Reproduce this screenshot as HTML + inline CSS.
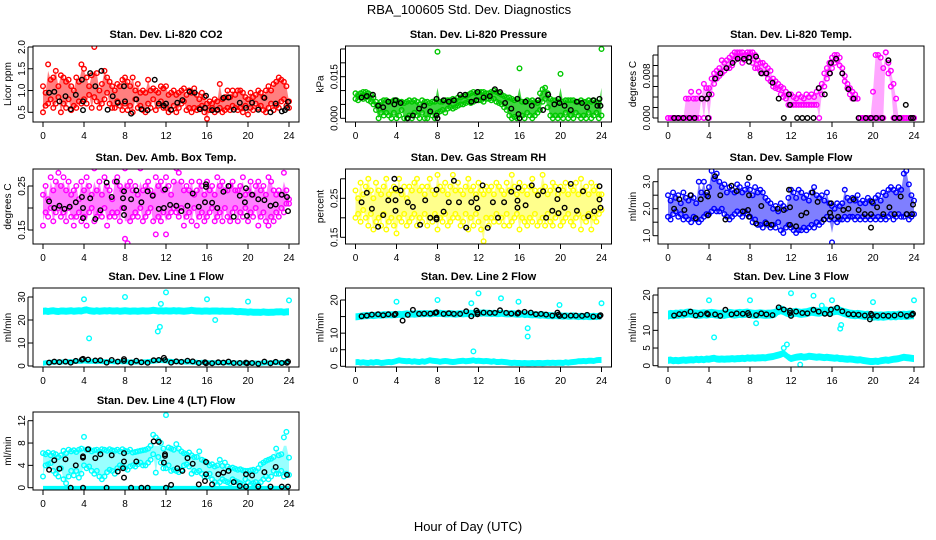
<!DOCTYPE html>
<html><head><meta charset="utf-8"><style>
html,body{margin:0;padding:0;background:#fff}
svg{display:block;font-family:"Liberation Sans",sans-serif}
</style></head><body>
<svg id="chart" width="936" height="540" viewBox="0 0 936 540" xmlns="http://www.w3.org/2000/svg">
<rect x="0" y="0" width="936" height="540" fill="#fff"/>
<text x="469" y="14" font-size="13" text-anchor="middle">RBA_100605  Std. Dev. Diagnostics</text>
<text x="468" y="531" font-size="13" text-anchor="middle">Hour of Day (UTC)</text>
</svg>
<script>
const HOURS=[0,0.25,0.5,0.75,1,1.25,1.5,1.75,2,2.25,2.5,2.75,3,3.25,3.5,3.75,4,4.25,4.5,4.75,5,5.25,5.5,5.75,6,6.25,6.5,6.75,7,7.25,7.5,7.75,8,8.25,8.5,8.75,9,9.25,9.5,9.75,10,10.25,10.5,10.75,11,11.25,11.5,11.75,12,12.25,12.5,12.75,13,13.25,13.5,13.75,14,14.25,14.5,14.75,15,15.25,15.5,15.75,16,16.25,16.5,16.75,17,17.25,17.5,17.75,18,18.25,18.5,18.75,19,19.25,19.5,19.75,20,20.25,20.5,20.75,21,21.25,21.5,21.75,22,22.25,22.5,22.75,23,23.25,23.5,23.75,24];
const X_TICKS=[0,4,8,12,16,20,24];

// CO2
const co2Upper=[1.1,0.95,1.6,1.25,1.3,1.45,1.1,1.35,1.3,1.2,1.25,1.1,1.0,1.3,1.2,1.6,1.5,1.3,1.1,1.35,2.0,1.4,1.0,1.15,1.45,1.3,1.2,1.1,1.0,1.15,1.1,1.25,1.3,1.2,1.1,1.3,1.0,1.15,0.95,1.0,0.95,1.25,1.0,1.05,1.0,0.95,1.1,1.05,1.1,0.9,0.95,1.0,0.9,0.95,1.0,1.05,0.9,1.0,0.95,1.05,0.9,0.8,0.95,0.85,0.7,0.75,0.7,0.8,0.75,1.15,0.8,0.85,1.0,0.85,1.0,0.9,1.0,1.0,0.95,0.85,0.8,0.95,0.85,0.9,1.0,0.95,0.85,1.0,1.1,1.0,1.15,1.2,1.3,1.25,1.2,1.1,0.75];
const co2Lower=[0.5,0.65,0.7,0.8,0.6,0.7,0.85,0.5,0.7,0.6,0.8,0.55,0.65,0.6,0.75,0.7,0.8,0.7,0.9,0.6,0.85,0.75,0.6,0.7,0.8,0.95,0.7,0.6,0.6,0.75,0.65,0.55,0.7,0.55,0.65,0.5,0.8,0.6,0.65,0.55,0.5,0.7,0.6,0.8,0.55,0.65,0.75,0.6,0.6,0.5,0.55,0.65,0.5,0.6,0.7,0.75,0.55,0.6,0.5,0.6,0.55,0.6,0.65,0.5,0.35,0.55,0.6,0.5,0.55,0.6,0.5,0.55,0.6,0.55,0.65,0.6,0.55,0.6,0.5,0.65,0.45,0.6,0.55,0.7,0.6,0.65,0.55,0.5,0.6,0.7,0.55,0.65,0.6,0.75,0.8,0.65,0.6];
const co2Black=[[0.6,0.95],[1.1,0.97],[1.6,0.75],[2.2,0.87],[2.7,0.57],[3.2,0.9],[3.8,1.25],[3.9,0.55],[3.9,0.75],[4.6,1.4],[5.1,1.1],[5.7,1.45],[6.3,0.56],[6.8,0.87],[7.3,0.72],[7.9,1.1],[8.0,0.75],[8.6,0.47],[9.1,0.8],[9.6,0.57],[10.2,0.55],[10.9,1.25],[11.3,0.7],[11.8,0.65],[12.0,0.7],[12.5,0.56],[13.1,0.72],[13.6,0.78],[14.3,0.97],[14.8,0.95],[15.3,0.57],[15.8,0.6],[15.9,0.88],[16.5,0.55],[17.0,0.56],[17.6,0.83],[18.1,0.84],[18.6,0.56],[19.2,0.72],[19.8,0.6],[20.4,0.72],[21.0,0.56],[21.6,0.83],[22.2,0.5],[22.7,0.7],[23.3,0.52],[23.6,0.55],[23.8,0.6],[23.9,0.74]];

// Pressure
const presUpper=[0.009,0.0085,0.009,0.0095,0.0095,0.009,0.0085,0.0075,0.006,0.005,0.006,0.0065,0.0065,0.006,0.006,0.0065,0.0065,0.006,0.006,0.0055,0.006,0.0065,0.006,0.0065,0.006,0.005,0.0065,0.006,0.006,0.0055,0.006,0.006,0.024,0.006,0.006,0.0065,0.0065,0.0065,0.007,0.0065,0.0075,0.0075,0.008,0.008,0.0085,0.009,0.0095,0.009,0.0095,0.0095,0.0095,0.009,0.009,0.0095,0.01,0.0095,0.009,0.0085,0.008,0.0075,0.0075,0.007,0.0065,0.007,0.018,0.006,0.006,0.0065,0.006,0.0065,0.006,0.0055,0.009,0.0105,0.011,0.009,0.007,0.0065,0.0065,0.006,0.016,0.006,0.0065,0.0065,0.0065,0.0065,0.006,0.006,0.0065,0.006,0.006,0.0065,0.006,0.0065,0.006,0.0055,0.025];
const presLower=[0.007,0.0065,0.0075,0.007,0.0075,0.0065,0.006,0.005,0.003,0.0,0.002,0.001,0.002,0.001,0.0,0.002,0.0,0.001,0.003,0.0,0.0,0.001,0.0,0.002,0.001,0.0,0.002,0.0,0.0,0.002,0.001,0.0,0.002,0.0025,0.003,0.002,0.0035,0.004,0.0035,0.004,0.0045,0.005,0.005,0.0055,0.006,0.0055,0.006,0.0065,0.0065,0.0065,0.006,0.007,0.007,0.0065,0.007,0.006,0.0055,0.005,0.004,0.003,0.001,0.0,0.0005,0.0,0.0,0.001,0.0,0.002,0.001,0.0,0.001,0.002,0.003,0.006,0.007,0.004,0.001,0.0,0.001,0.0,0.001,0.0,0.002,0.0,0.001,0.0,0.002,0.001,0.0,0.001,0.0,0.002,0.0,0.001,0.002,0.0,0.001];
const presBlack=[[0.6,0.0075],[1.1,0.008],[1.7,0.0085],[2.2,0.0045],[2.7,0.004],[3.2,0.006],[3.8,0.005],[3.9,0.0065],[4.4,0.0055],[5.1,0.0],[5.6,0.001],[6.2,0.0035],[6.7,0.0045],[7.3,0.0025],[7.9,0.007],[7.9,0.001],[8.0,0.0],[8.6,0.0065],[9.1,0.006],[9.6,0.0065],[10.2,0.0085],[10.7,0.0085],[11.3,0.006],[11.8,0.0065],[11.9,0.0095],[12.5,0.0075],[13.1,0.008],[13.6,0.0105],[14.1,0.0095],[14.6,0.0055],[15.2,0.0035],[15.8,0.007],[15.9,0.0015],[16.0,0.0],[16.6,0.006],[17.2,0.0045],[17.8,0.0065],[18.3,0.003],[18.8,0.0085],[19.4,0.005],[19.8,0.007],[19.9,0.0055],[20.4,0.0045],[21.0,0.003],[21.6,0.006],[22.1,0.0055],[22.6,0.004],[23.2,0.0065],[23.6,0.0045],[23.8,0.007],[23.9,0.0045]];

// Li-820 Temp
const tempUpper=[0,0,0,0,0,0,0,0.0037,0.0037,0.005,0.0037,0.0037,0.005,0.0037,0.0065,0.0057,0.0057,0.0075,0.0085,0.009,0.0095,0.011,0.0105,0.011,0.0115,0.012,0.0125,0.0125,0.0125,0.0125,0.012,0.0125,0.0125,0.0125,0.012,0.011,0.0105,0.0105,0.01,0.0095,0.009,0.0075,0.007,0.0065,0.006,0.0057,0.005,0.0045,0.0045,0.004,0.0037,0.0045,0.004,0.0037,0.0045,0.004,0.0045,0.004,0.005,0.0057,0.0065,0.0085,0.0095,0.0105,0.0115,0.012,0.012,0.0115,0.0095,0.008,0.0065,0.0057,0.005,0.0045,0.0037,0,0,0,0,0,0.005,0.012,0.012,0.0115,0.0095,0.0125,0.0105,0.009,0.0065,0.0037,0,0,0,0,0,0,0];
const tempLower=[0,0,0,0,0,0,0,0,0,0,0,0,0,0.0037,0,0.0037,0,0.0045,0.0065,0.0075,0.008,0.0085,0.009,0.0095,0.0095,0.01,0.011,0.0115,0.0115,0.0105,0.011,0.012,0.0115,0.0105,0.0095,0.0095,0.009,0.0085,0.0085,0.0075,0.007,0.006,0.0057,0.0055,0.0045,0.004,0.0037,0.0025,0.0025,0.0025,0.0025,0.0025,0.0025,0.0025,0.0025,0.0025,0.0025,0.0025,0.0025,0,0.0045,0.006,0.0075,0.0085,0.0095,0.0105,0.011,0.01,0.0085,0.007,0.0057,0.0045,0.0037,0.0037,0.0037,0,0,0,0,0,0,0,0,0,0,0.0125,0.0085,0.006,0,0,0,0,0,0,0,0,0];
const tempBlack=[[0.6,0],[1.0,0],[1.5,0],[2.1,0],[2.6,0],[3.3,0.0037],[3.8,0.0037],[3.9,0],[4.0,0.0045],[4.6,0.0075],[5.1,0.0085],[5.7,0.0095],[6.3,0.0105],[6.8,0.0113],[7.4,0.0113],[7.9,0.0115],[7.9,0.0107],[8.6,0.0117],[9.1,0.0085],[9.6,0.0085],[10.2,0.0067],[10.8,0.0037],[11.3,0],[11.8,0.0045],[11.9,0.0025],[12.6,0],[13.1,0],[13.6,0],[14.2,0],[14.7,0.0057],[15.3,0.0045],[15.8,0.0085],[15.9,0.0105],[16.4,0.0113],[17.0,0.0085],[17.6,0.0055],[18.1,0.0037],[18.6,0],[19.3,0],[19.8,0],[20.3,0],[20.9,0],[21.5,0.011],[22.1,0],[22.6,0],[23.2,0.0025],[23.7,0],[23.9,0]];

// Amb box temp
const ambUpper=[0.23,0.25,0.22,0.27,0.24,0.26,0.28,0.25,0.27,0.24,0.26,0.23,0.24,0.25,0.22,0.26,0.24,0.27,0.25,0.23,0.29,0.24,0.26,0.23,0.27,0.25,0.24,0.22,0.26,0.27,0.25,0.24,0.29,0.25,0.26,0.24,0.25,0.23,0.29,0.24,0.25,0.26,0.24,0.23,0.27,0.25,0.26,0.24,0.27,0.25,0.23,0.26,0.29,0.28,0.26,0.24,0.25,0.24,0.26,0.23,0.24,0.26,0.25,0.23,0.26,0.24,0.25,0.23,0.27,0.25,0.26,0.24,0.24,0.25,0.26,0.24,0.24,0.25,0.27,0.23,0.24,0.26,0.23,0.25,0.26,0.24,0.25,0.23,0.27,0.26,0.24,0.23,0.24,0.23,0.28,0.24,0.22];
const ambLower=[0.16,0.19,0.18,0.20,0.17,0.19,0.2,0.18,0.19,0.17,0.2,0.18,0.16,0.18,0.19,0.17,0.18,0.16,0.19,0.2,0.17,0.18,0.19,0.18,0.2,0.16,0.18,0.19,0.18,0.19,0.17,0.2,0.13,0.12,0.17,0.18,0.19,0.18,0.2,0.17,0.18,0.19,0.2,0.17,0.14,0.18,0.17,0.19,0.14,0.18,0.19,0.2,0.19,0.18,0.2,0.16,0.18,0.19,0.17,0.2,0.16,0.18,0.19,0.17,0.18,0.19,0.2,0.17,0.18,0.19,0.17,0.2,0.18,0.17,0.19,0.2,0.17,0.19,0.18,0.2,0.17,0.19,0.18,0.2,0.16,0.18,0.19,0.17,0.16,0.18,0.17,0.19,0.18,0.2,0.19,0.21,0.21];
const ambBlack=[[0.6,0.215],[1.1,0.2],[1.6,0.205],[2.1,0.198],[2.6,0.203],[3.2,0.213],[3.8,0.225],[3.9,0.2],[3.9,0.177],[4.6,0.222],[5.1,0.175],[5.6,0.195],[6.2,0.258],[6.7,0.225],[7.2,0.26],[7.8,0.222],[7.9,0.238],[7.9,0.2],[7.9,0.184],[8.6,0.22],[9.1,0.24],[9.6,0.213],[10.2,0.238],[10.7,0.228],[11.3,0.198],[11.8,0.2],[11.9,0.242],[12.4,0.207],[13.0,0.205],[13.5,0.193],[14.1,0.205],[14.6,0.233],[15.2,0.203],[15.8,0.213],[15.9,0.248],[15.9,0.254],[16.5,0.212],[17.0,0.2],[17.6,0.237],[18.1,0.25],[18.6,0.18],[19.2,0.228],[19.7,0.213],[19.8,0.245],[19.9,0.182],[20.4,0.23],[21.0,0.22],[21.6,0.218],[22.2,0.205],[22.7,0.208],[23.3,0.23],[23.8,0.225],[23.9,0.193]];

// Gas stream RH
const rhUpper=[0.27,0.25,0.29,0.26,0.28,0.3,0.27,0.25,0.29,0.27,0.26,0.28,0.3,0.26,0.27,0.28,0.27,0.3,0.26,0.28,0.25,0.28,0.27,0.29,0.3,0.27,0.28,0.26,0.28,0.3,0.27,0.26,0.31,0.28,0.27,0.29,0.26,0.28,0.31,0.27,0.29,0.27,0.26,0.28,0.3,0.27,0.28,0.26,0.29,0.27,0.26,0.28,0.27,0.28,0.26,0.29,0.28,0.27,0.26,0.29,0.27,0.31,0.28,0.26,0.29,0.27,0.28,0.26,0.28,0.3,0.27,0.26,0.27,0.31,0.28,0.26,0.27,0.29,0.28,0.26,0.28,0.27,0.29,0.26,0.28,0.27,0.29,0.26,0.3,0.27,0.28,0.26,0.29,0.27,0.28,0.26,0.26];
const rhLower=[0.2,0.21,0.19,0.22,0.2,0.18,0.21,0.17,0.19,0.2,0.18,0.21,0.17,0.19,0.2,0.18,0.16,0.2,0.19,0.21,0.18,0.19,0.2,0.21,0.18,0.2,0.19,0.21,0.18,0.2,0.19,0.21,0.17,0.2,0.19,0.21,0.18,0.19,0.2,0.21,0.2,0.18,0.19,0.21,0.17,0.2,0.18,0.21,0.19,0.17,0.14,0.2,0.18,0.2,0.19,0.21,0.19,0.2,0.18,0.21,0.18,0.19,0.2,0.21,0.17,0.2,0.19,0.18,0.2,0.19,0.21,0.18,0.19,0.2,0.18,0.21,0.19,0.18,0.2,0.21,0.18,0.19,0.2,0.21,0.19,0.18,0.2,0.21,0.17,0.2,0.19,0.21,0.17,0.2,0.19,0.21,0.22];
const rhBlack=[[0.6,0.24],[1.1,0.264],[1.6,0.223],[2.2,0.177],[2.7,0.207],[3.2,0.245],[3.8,0.3],[3.9,0.275],[3.9,0.245],[3.9,0.218],[4.4,0.27],[5.1,0.24],[5.6,0.228],[6.3,0.182],[6.8,0.245],[7.3,0.2],[7.9,0.272],[7.9,0.196],[7.9,0.2],[8.6,0.216],[9.1,0.24],[9.6,0.295],[10.1,0.24],[10.8,0.175],[11.3,0.24],[11.8,0.25],[11.9,0.225],[12.4,0.283],[12.9,0.174],[13.4,0.24],[13.9,0.2],[14.5,0.24],[15.2,0.267],[15.8,0.226],[15.8,0.244],[15.9,0.277],[16.6,0.232],[17.2,0.283],[17.8,0.258],[18.3,0.268],[18.6,0.2],[19.2,0.218],[19.7,0.248],[19.8,0.272],[19.8,0.212],[20.4,0.226],[21.0,0.287],[21.6,0.218],[22.2,0.268],[22.7,0.204],[23.3,0.217],[23.8,0.281],[23.8,0.247],[23.9,0.226]];

// Sample flow
const sfUpper=[2.5,2.3,2.6,2.4,2.5,2.2,2.6,2.4,2.3,2.5,2.4,2.2,3.0,2.6,3.0,2.5,2.8,3.4,3.1,3.3,3.0,2.8,2.9,2.6,2.8,2.7,2.6,2.9,2.8,2.6,2.7,2.9,2.7,2.5,2.8,2.6,2.7,2.6,2.4,2.3,2.2,2.0,2.1,1.9,2.2,2.1,2.0,2.4,2.7,2.6,2.4,2.7,2.6,2.4,2.5,2.3,2.6,2.8,2.5,2.4,2.5,2.3,2.6,2.2,2.1,2.0,2.2,2.1,2.2,2.7,2.4,2.3,2.4,2.3,2.5,2.2,2.3,2.2,2.4,2.3,2.2,2.4,2.5,2.3,2.6,2.5,2.7,2.8,2.7,2.6,2.8,2.7,3.3,3.4,2.9,2.5,2.3];
const sfLower=[1.7,1.6,1.8,1.9,1.7,1.8,1.6,1.7,1.6,1.5,1.7,1.6,1.5,1.6,1.7,1.8,1.8,1.9,2.0,1.9,1.9,2.0,1.8,1.7,1.6,1.7,1.8,1.9,1.8,1.7,1.9,1.8,1.7,1.5,1.6,1.4,1.4,1.3,1.5,1.4,1.3,1.4,1.3,1.5,1.2,1.1,1.3,1.4,1.3,1.2,1.1,1.2,1.2,1.3,1.2,1.3,1.4,1.3,1.5,1.4,1.5,1.6,1.7,1.6,0.75,1.6,1.5,1.6,1.6,1.7,1.6,1.7,1.7,1.6,1.7,1.6,1.7,1.6,1.7,1.6,1.7,1.6,1.7,1.6,1.7,1.6,1.7,1.8,1.6,1.7,1.8,1.7,1.7,1.8,1.6,1.7,1.8];
const sfBlack=[[0.6,2.0],[1.1,2.35],[1.6,1.95],[2.2,2.5],[2.7,1.65],[3.2,2.35],[3.8,2.6],[3.9,2.45],[3.9,1.75],[4.6,3.2],[5.1,2.5],[5.6,1.6],[6.2,2.85],[6.7,2.65],[7.3,1.9],[7.8,1.95],[7.9,3.15],[7.9,2.5],[7.9,1.7],[8.6,1.45],[9.1,2.1],[9.6,1.45],[10.1,1.4],[10.7,2.0],[11.3,1.95],[11.8,2.7],[11.9,2.05],[11.9,1.4],[12.5,1.35],[13.0,1.75],[13.5,1.85],[14.1,2.6],[14.6,2.25],[15.2,1.6],[15.8,1.85],[15.9,1.7],[15.9,2.2],[16.6,1.7],[17.1,1.95],[17.6,2.0],[18.1,2.35],[18.6,1.95],[19.2,1.8],[19.8,1.3],[19.8,1.8],[19.9,2.25],[20.4,2.05],[21.0,1.8],[21.6,2.05],[22.1,1.8],[22.7,2.45],[23.3,1.8],[23.8,1.8],[23.9,2.15]];

// Line 1 flow
const l1High=[23.8,23.9,23.7,23.9,24.0,23.8,23.7,23.9,23.9,23.8,23.9,24.0,23.8,23.9,24.0,23.9,24.2,24.4,24.1,23.9,23.8,24.0,23.8,23.9,24.0,23.9,24.1,23.9,23.9,24.0,23.8,23.9,24.0,23.9,23.8,23.9,23.9,23.8,23.9,24.0,23.9,23.9,24.0,24.2,24.1,23.9,24.0,23.9,24.0,23.9,23.9,24.1,23.9,24.0,23.9,23.8,23.9,24.0,24.2,24.0,23.9,23.9,23.8,23.9,23.9,23.8,23.9,23.9,23.9,23.8,23.9,23.8,23.8,23.8,23.9,23.7,23.6,23.7,23.6,23.5,23.4,23.5,23.4,23.4,23.4,23.3,23.5,23.4,23.3,23.4,23.4,23.5,23.5,23.6,23.4,23.5,23.6];
const l1Low=[1.2,1.4,1.5,1.6,1.6,1.7,1.8,1.7,1.8,1.7,1.9,1.8,1.9,2.0,2.1,2.0,2.2,2.1,2.0,2.1,2.0,1.9,2.0,1.9,1.9,1.8,2.0,1.9,1.8,1.9,2.0,1.8,1.9,1.8,1.7,1.8,1.7,1.8,1.7,1.8,1.8,1.9,2.0,2.1,2.2,2.3,2.4,2.3,2.2,2.1,2.0,1.9,1.9,1.8,1.9,1.8,1.7,1.8,1.7,1.6,1.6,1.5,1.6,1.5,1.5,1.4,1.5,1.4,1.4,1.5,1.4,1.5,1.4,1.3,1.4,1.3,1.3,1.4,1.3,1.2,1.2,1.3,1.2,1.3,1.3,1.2,1.3,1.4,1.3,1.4,1.5,1.4,1.5,1.4,1.5,1.6,1.5];
const l1Outliers=[[4.0,29],[4.5,12],[8.0,30],[11.2,15],[11.4,17],[11.5,27],[12.0,32],[16.0,29],[16.8,20],[20.0,28],[24.0,28.5]];
const l1Black=[[0.6,1.5],[1.1,1.9],[1.6,1.7],[2.2,1.9],[2.7,1.5],[3.2,2.2],[3.8,2.8],[3.9,3.1],[4.4,2.8],[5.1,2.4],[5.6,2.5],[6.2,1.5],[6.7,2.6],[7.3,1.9],[7.9,3.0],[7.9,2.2],[8.6,1.5],[9.1,2.3],[9.6,1.6],[10.2,1.4],[10.8,2.5],[11.3,2.6],[11.8,3.5],[11.9,2.6],[12.5,1.5],[13.0,2.0],[13.5,1.8],[14.1,2.3],[14.6,2.0],[15.2,1.3],[15.8,1.6],[15.9,1.2],[16.5,1.2],[17.1,1.6],[17.6,1.5],[18.1,1.9],[18.6,1.3],[19.2,1.3],[19.8,1.5],[19.9,1.2],[20.4,1.3],[21.0,1.0],[21.6,1.9],[22.2,1.2],[22.7,1.8],[23.3,1.3],[23.8,1.4],[23.9,1.9]];

// Line 2 flow
const l2High=[14.9,15.0,15.1,15.2,15.3,15.3,15.4,15.3,15.4,15.5,15.4,15.6,15.5,15.6,15.5,15.6,15.6,15.7,15.6,15.7,15.8,15.7,15.8,15.7,15.8,15.9,15.8,15.9,15.9,15.8,15.9,16.0,15.9,16.0,15.9,15.8,15.8,15.9,15.8,15.7,15.8,15.9,15.8,15.9,15.9,16.0,15.9,16.0,16.1,16.0,16.1,16.0,16.0,15.9,16.0,15.9,15.9,16.0,15.9,15.8,15.8,15.9,15.8,15.7,15.7,15.8,15.6,15.7,15.6,15.5,15.6,15.5,15.4,15.5,15.4,15.3,15.3,15.2,15.3,15.2,15.2,15.1,15.2,15.1,15.1,15.2,15.1,15.0,15.1,15.0,15.1,15.0,15.0,15.1,15.0,15.1,15.2];
const l2Low=[1.2,1.3,1.1,1.2,1.1,1.0,1.2,1.1,1.3,1.2,1.0,1.1,1.2,1.3,1.2,1.4,1.6,1.8,1.7,1.6,1.5,1.6,1.4,1.5,1.4,1.3,1.5,1.4,1.6,1.8,1.7,1.6,1.5,1.4,1.5,1.6,1.5,1.4,1.3,1.4,1.5,1.6,1.7,1.5,1.6,1.7,1.8,1.6,1.7,1.6,1.5,1.6,1.5,1.4,1.5,1.3,1.3,1.4,1.3,1.2,1.1,1.0,1.1,1.0,1.0,0.9,1.0,0.9,0.9,1.0,0.9,1.0,1.0,0.9,1.0,1.1,1.0,1.1,1.0,1.1,1.1,1.0,1.2,1.1,1.2,1.3,1.4,1.5,1.5,1.6,1.5,1.7,1.7,1.6,1.8,1.9,1.9];
const l2Outliers=[[4.0,19.5],[8.0,20],[11.3,19],[11.5,4.5],[12.0,22],[14.2,20.5],[15.9,19.5],[16.8,11.5],[16.8,9],[19.9,18.5],[24.0,19]];
const l2Black=[[0.6,15.1],[1.1,15.3],[1.6,15.6],[2.2,15.7],[2.7,15.4],[3.2,15.7],[3.8,15.5],[3.9,15.8],[4.6,13.8],[5.1,15.5],[5.6,17.0],[6.2,15.8],[6.7,15.9],[7.3,15.9],[7.8,16.1],[7.9,16.3],[8.6,15.8],[9.1,16.0],[9.6,15.8],[10.2,15.8],[10.8,16.6],[11.3,15.1],[11.8,16.8],[11.9,15.7],[11.9,16.2],[12.5,16.2],[13.1,16.1],[13.6,16.1],[14.1,16.9],[14.7,16.1],[15.2,15.9],[15.8,15.9],[15.9,16.2],[16.5,16.4],[17.1,16.2],[17.6,15.7],[18.1,15.8],[18.6,15.6],[19.2,15.3],[19.7,16.2],[19.8,15.6],[19.9,15.2],[20.4,15.2],[21.0,15.3],[21.5,15.3],[22.1,15.2],[22.6,15.5],[23.2,15.0],[23.8,15.1],[23.9,15.4]];

// Line 3 flow
const l3High=[14.3,14.5,14.4,14.6,14.5,14.7,14.6,14.8,14.9,14.8,14.7,14.6,14.5,14.6,14.7,14.6,14.7,14.8,14.7,14.6,14.5,14.6,14.5,14.7,14.8,14.7,14.6,14.7,14.8,14.7,14.8,14.9,14.7,14.6,14.5,14.6,14.7,14.6,14.5,14.6,14.6,14.7,14.9,15.6,15.8,15.6,15.2,15.0,14.9,15.0,15.1,14.9,14.8,14.9,15.0,15.2,15.4,15.3,15.2,15.1,15.3,15.5,15.4,15.2,15.4,15.6,15.7,15.5,15.2,15.0,14.8,14.6,14.5,14.4,14.5,14.4,14.3,14.2,14.3,14.1,14.0,14.1,14.0,14.1,14.0,14.1,14.2,14.1,14.2,14.1,14.3,14.2,14.3,14.2,14.3,14.4,14.4];
const l3Low=[1.5,1.6,1.4,1.5,1.4,1.5,1.6,1.5,1.6,1.7,1.6,1.8,1.7,1.8,1.7,1.9,1.8,2.0,2.1,1.9,1.8,1.9,1.8,1.9,1.9,2.0,1.9,2.0,2.0,2.1,2.0,2.2,2.1,2.2,2.1,2.2,2.2,2.3,2.2,2.4,2.5,2.6,2.8,3.0,3.2,3.5,3.0,2.4,2.0,2.2,2.4,2.5,2.6,2.4,2.5,2.7,2.6,2.5,2.4,2.5,2.4,2.3,2.4,2.3,2.2,2.1,2.2,2.0,2.0,1.9,1.8,1.9,1.8,1.7,1.6,1.7,1.5,1.4,1.3,1.2,1.2,1.3,1.2,1.4,1.5,1.6,1.5,1.7,1.8,1.9,2.0,2.2,2.4,2.3,2.2,2.1,2.0];
const l3Outliers=[[4.0,18.5],[4.5,8],[8.0,18.5],[8.6,12],[11.3,5],[11.6,6],[12.0,20.5],[14.2,19.8],[15.0,17],[16.0,18.5],[16.8,10.5],[16.9,11.5],[20.0,18],[24.0,18.5],[12.9,0.3]];
const l3Black=[[0.6,14.2],[1.1,14.6],[1.6,14.7],[2.2,15.3],[2.7,14.2],[3.2,14.5],[3.8,14.8],[3.9,14.5],[4.6,14.5],[5.1,14.1],[5.6,15.8],[6.2,14.5],[6.7,14.8],[7.3,14.7],[7.8,14.9],[7.9,14.3],[8.6,14.3],[9.1,14.8],[9.6,14.5],[10.2,14.3],[10.8,16.5],[11.3,15.9],[11.9,15.6],[11.9,14.9],[12.0,14.1],[12.5,15.3],[13.1,14.9],[13.6,14.8],[14.2,15.8],[14.7,15.3],[15.3,14.7],[15.8,14.6],[15.9,15.9],[16.5,16.4],[17.0,15.4],[17.6,14.6],[18.1,14.5],[18.6,14.4],[19.2,14.2],[19.7,13.1],[19.8,14.7],[19.9,14.3],[20.4,14.1],[21.0,14.2],[21.5,14.1],[22.1,14.2],[22.7,14.5],[23.3,14.1],[23.8,14.4],[23.9,14.7]];

// Line 4 (LT) flow
const l4Upper=[6.2,6.0,6.3,5.8,6.2,6.0,5.5,5.8,6.6,6.2,6.8,6.5,6.7,6.4,6.8,7.0,9.1,6.8,6.9,6.5,6.7,6.8,6.5,6.9,6.8,6.6,6.9,6.7,6.6,6.8,6.5,6.9,6.6,6.5,6.8,6.3,6.4,6.5,6.6,6.7,6.8,7.0,7.5,9.5,9.0,8.5,8.0,7.0,13.0,7.2,7.0,6.8,7.8,7.0,6.5,6.2,6.0,6.3,5.8,5.5,5.5,6.5,5.0,4.8,4.5,4.0,4.2,3.8,4.0,5.0,3.9,4.5,3.8,3.5,3.6,3.4,3.2,3.3,3.1,3.0,3.0,3.1,3.2,3.0,3.5,4.2,4.5,4.8,5.0,5.2,5.5,7.0,5.8,6.0,9.0,10.0,5.4];
const l4Lower=[2.0,4.0,4.2,4.4,3.0,2.5,2.0,3.5,1.5,0.8,2.0,3.0,2.2,3.0,1.8,2.5,4.0,3.5,3.8,3.0,2.5,3.0,2.0,1.5,2.0,2.8,3.2,3.0,2.5,3.5,4.0,3.8,3.5,3.2,3.8,4.0,3.8,4.2,4.5,4.0,4.0,4.5,5.0,6.0,2.7,5.5,4.5,3.5,3.5,4.0,3.0,3.2,3.0,2.8,3.2,4.0,4.2,3.8,2.5,3.0,2.8,3.0,2.5,2.0,2.0,2.5,1.5,1.0,0.5,1.0,1.5,1.2,1.0,0.8,1.5,1.2,1.0,0.8,0.5,1.5,1.0,0.5,0.8,1.0,0.5,1.0,1.5,2.0,1.5,2.0,3.0,2.5,2.5,3.0,2.0,2.5,2.3];
const l4Zero=[0,0,0,0,0,0,0,0,0,0,0,0,0,0,0,0,0,0,0,0,0,0,0,0,0,0,0,0,0,0,0,0,0,0,0,0,0,0,0,0,0,0,0,0,0,0,0,0,0,0,0,0,0,0,0,0,0,0,0,0,0,0,0,0,0,0,0,0,0,0,0,0,0,0,0,0,0,0,0,0,0,0,0,0,0,0,0,0,0,0,0,0,0,0,0,0,0];
const l4Black=[[0.6,3.2],[1.1,4.9],[1.6,3.4],[2.2,5.1],[2.7,0],[3.2,4.0],[3.9,5.4],[3.9,5.6],[3.9,0],[4.4,6.9],[5.1,5.3],[5.6,6.0],[6.2,0],[6.7,5.8],[7.3,2.9],[7.8,3.5],[7.9,6.2],[7.9,4.7],[7.9,1.8],[8.6,0],[9.1,4.7],[9.6,0],[10.2,0],[10.8,8.3],[11.3,8.2],[11.8,4.5],[11.9,6.0],[11.9,5.7],[12.0,0],[12.5,0.5],[13.1,3.5],[13.6,3.0],[14.1,5.3],[14.6,4.3],[15.2,0.6],[15.8,1.2],[15.9,2.4],[15.9,4.6],[16.5,0.6],[17.1,2.4],[17.6,2.7],[18.1,3.0],[18.6,1.0],[19.2,0.3],[19.8,2.4],[19.8,0.2],[20.4,2.2],[21.0,0.2],[21.6,2.8],[22.2,0.2],[22.7,3.7],[23.3,0.2],[23.8,2.3],[23.9,0.2]];

const NS='http://www.w3.org/2000/svg';
const svg=document.getElementById('chart');
function mk(tag,attrs,parent){const e=document.createElementNS(NS,tag);for(const k in attrs)e.setAttribute(k,attrs[k]);(parent||svg).appendChild(e);return e;}

function makePanel(cfg){
  const g=mk('g',{});
  
  
  const L=cfg.left,R=cfg.left+266,T=cfg.top,B=cfg.bottom;
  const xs=h=>L+10+h*10.25;
  const ys=v=>cfg.p0+(v-cfg.v0)*(cfg.p1-cfg.p0)/(cfg.v1-cfg.v0);
  const clip=mk('clipPath',{id:'clip-'+cfg.name},g);
  mk('rect',{x:L,y:T,width:266,height:B-T},clip);
  const plot=mk('g',{'clip-path':'url(#clip-'+cfg.name+')'},g);
  
  
  const t=mk('text',{x:(L+R)/2,y:T-8,'font-size':11,'font-weight':'bold','text-anchor':'middle'},g);
  t.textContent=cfg.title;
  
  
  const yt=mk('text',{transform:'translate('+(L-22)+','+((T+B)/2)+') rotate(-90)','font-size':10,'text-anchor':'middle'},g);
  yt.textContent=cfg.ytitle;
  
  
  const cap=cfg.bandCap;
  (cfg.bands||[]).forEach(b=>{
    let d='';
    b.hi.forEach((v,i)=>{const vv=cap!==undefined?Math.min(v,cap):v;d+=(i?'L':'M')+xs(HOURS[i]).toFixed(1)+','+(ys(vv)).toFixed(1);});
    for(let i=b.lo.length-1;i>=0;i--){d+='L'+xs(HOURS[i]).toFixed(1)+','+(ys(b.lo[i])).toFixed(1);}
    const p=mk('path',{d:d+'Z',fill:cfg.color,'fill-opacity':b.op,stroke:'none'},plot);
    
    
  });
  (cfg.thick||[]).forEach(b=>{
    let d='';
    b.c.forEach((v,i)=>{d+=(i?'L':'M')+xs(HOURS[i]).toFixed(1)+','+(ys(v)-b.half).toFixed(1);});
    for(let i=b.c.length-1;i>=0;i--){d+='L'+xs(HOURS[i]).toFixed(1)+','+(ys(b.c[i])+b.half).toFixed(1);}
    const p=mk('path',{d:d+'Z',fill:cfg.color,'fill-opacity':b.op,stroke:'none'},plot);
    
    
  });
  const dot=(h,v,col,nm)=>{
    const c=mk('circle',{cx:xs(h).toFixed(1),cy:ys(v).toFixed(1),r:2.3,fill:'none',stroke:col,'stroke-width':1.4},plot);
    
    
  };
  (cfg.series||[]).forEach(s=>s.forEach((v,i)=>dot(HOURS[i],v,cfg.color,'data-point')));
  (cfg.outliers||[]).forEach(p=>dot(p[0],p[1],cfg.color,'outlier-point'));
  (cfg.black||[]).forEach(p=>dot(p[0],p[1],'#000','hourly-point'));
  const box=mk('rect',{x:L,y:T,width:266,height:B-T,fill:'none',stroke:'#000','stroke-width':1},g);
  
  
  X_TICKS.forEach(h=>{
    mk('line',{x1:xs(h),x2:xs(h),y1:B,y2:B+5,stroke:'#000'},g);
    const lb=mk('text',{x:xs(h),y:B+17,'font-size':10,'text-anchor':'middle'},g);
    lb.textContent=h;
    
    
  });
  cfg.yticks.forEach(v=>{mk('line',{x1:L-5,x2:L,y1:ys(v),y2:ys(v),stroke:'#000'},g);});
  mk('line',{x1:L-5,x2:L-5,y1:ys(cfg.yticks[0]),y2:ys(cfg.yticks[cfg.yticks.length-1]),stroke:'#000'},g);
  cfg.ylabels.forEach(v=>{
    const lb=mk('text',{transform:'translate('+(L-8)+','+ys(v)+') rotate(-90)','font-size':cfg.yfs||10,'text-anchor':'middle'},g);
    lb.textContent=cfg.fmt(v);
    
    
  });
}
const C1=33,C2=345.5,C3=658;
const f1=v=>v.toFixed(1),f3=v=>v.toFixed(3),f2=v=>v.toFixed(2),f0=v=>String(v);

makePanel({name:'co2-panel',title:'Stan. Dev. Li-820 CO2',ytitle:'Licor ppm',left:C1,top:46,bottom:122,v0:0.5,p0:112.3,v1:2.0,p1:47,color:'#ff0000',bandCap:1.45,
  yticks:[0.5,1.0,1.5,2.0],ylabels:[0.5,1.0,1.5,2.0],fmt:f1,bands:[{hi:co2Upper,lo:co2Lower,op:0.5}],series:[co2Upper,co2Lower],black:co2Black});
makePanel({name:'pressure-panel',title:'Stan. Dev. Li-820 Pressure',ytitle:'kPa',left:C2,top:46,bottom:122,v0:0,p0:118.3,v1:0.015,p1:76.7,color:'#00c800',bandCap:0.011,
  yticks:[0,0.005,0.01,0.015,0.02,0.025],ylabels:[0,0.015],fmt:f3,bands:[{hi:presUpper,lo:presLower,op:0.75}],series:[presUpper,presLower],black:presBlack});
makePanel({name:'temp-panel',title:'Stan. Dev. Li-820 Temp.',ytitle:'degrees C',left:C3,top:46,bottom:122,v0:0,p0:118,v1:0.008,p1:76,color:'#ff00ff',
  yticks:[0,0.002,0.004,0.006,0.008,0.01,0.012],ylabels:[0,0.008],fmt:f3,bands:[{hi:tempUpper,lo:tempLower,op:0.35}],series:[tempUpper,tempLower],black:tempBlack});
makePanel({name:'amb-temp-panel',title:'Stan. Dev. Amb. Box Temp.',ytitle:'degrees C',left:C1,top:169,bottom:244,v0:0.25,p0:186,v1:0.15,p1:230,color:'#ff00ff',bandCap:0.26,
  yticks:[0.15,0.2,0.25],ylabels:[0.15,0.25],fmt:f2,bands:[{hi:ambUpper,lo:ambLower.map(v=>Math.max(v,0.17)),op:0.5}],series:[ambUpper,ambLower],black:ambBlack});
makePanel({name:'rh-panel',title:'Stan. Dev. Gas Stream RH',ytitle:'percent',left:C2,top:169,bottom:244,v0:0.25,p0:198.3,v1:0.15,p1:237.3,color:'#ffff00',
  yticks:[0.15,0.2,0.25,0.3],ylabels:[0.15,0.25],fmt:f2,bands:[{hi:rhUpper,lo:rhLower,op:0.45}],series:[rhUpper,rhLower],black:rhBlack});
makePanel({name:'sample-flow-panel',title:'Stan. Dev. Sample Flow',ytitle:'ml/min',left:C3,top:169,bottom:244,v0:3.0,p0:181.7,v1:1.0,p1:235.7,color:'#0000ff',
  yticks:[1.0,1.5,2.0,2.5,3.0],ylabels:[1.0,2.0,3.0],fmt:f1,bands:[{hi:sfUpper,lo:sfLower.map(v=>Math.max(v,1.1)),op:0.5}],series:[sfUpper,sfLower],black:sfBlack});
makePanel({name:'line1-flow-panel',title:'Stan. Dev. Line 1 Flow',ytitle:'ml/min',left:C1,top:288,bottom:367,v0:30,p0:297,v1:0,p1:366,color:'#00ffff',
  yticks:[0,10,20,30],ylabels:[0,10,20,30],fmt:f0,thick:[{c:l1High,half:3.5,op:1},{c:l1Low,half:2.5,op:1}],outliers:l1Outliers,black:l1Black});
makePanel({name:'line2-flow-panel',title:'Stan. Dev. Line 2 Flow',ytitle:'ml/min',left:C2,top:288,bottom:367,v0:20,p0:300,v1:0,p1:366.3,color:'#00ffff',
  yticks:[0,5,10,15,20],ylabels:[0,5,10,20],fmt:f0,thick:[{c:l2High,half:3.5,op:1},{c:l2Low,half:3,op:1}],outliers:l2Outliers,black:l2Black});
makePanel({name:'line3-flow-panel',title:'Stan. Dev. Line 3 Flow',ytitle:'ml/min',left:C3,top:288,bottom:367,v0:20,p0:295,v1:0,p1:365.7,color:'#00ffff',
  yticks:[0,5,10,15,20],ylabels:[0,5,10,20],fmt:f0,thick:[{c:l3High,half:4.5,op:1},{c:l3Low,half:3.5,op:1}],outliers:l3Outliers,black:l3Black});
makePanel({name:'line4-flow-panel',title:'Stan. Dev. Line 4 (LT) Flow',ytitle:'ml/min',left:C1,top:412,bottom:490,v0:12,p0:420.7,v1:0,p1:487.7,color:'#00ffff',bandCap:7.5,
  yticks:[0,4,8,12],ylabels:[0,4,8,12],fmt:f0,bands:[{hi:l4Upper,lo:l4Lower,op:0.4}],thick:[{c:l4Zero,half:1.8,op:1}],series:[l4Upper,l4Lower],black:l4Black});
</script>
</body></html>
